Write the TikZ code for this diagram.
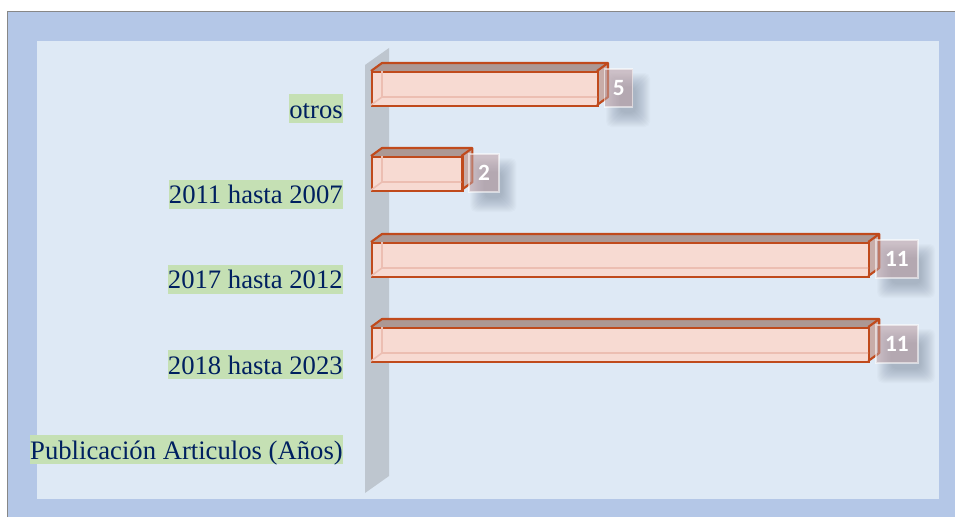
\documentclass[tikz,border=0pt]{standalone}
\usepackage{fontspec}
\setmainfont{Liberation Serif}
\newfontfamily\valfont{Carlito}
\definecolor{outerblue}{RGB}{180,199,231}
\definecolor{innerblue}{RGB}{222,233,245}
\definecolor{framegray}{RGB}{135,135,135}
\definecolor{wallgray}{RGB}{190,198,207}
\definecolor{barfill}{RGB}{247,218,210}
\definecolor{barstroke}{RGB}{192,74,28}
\definecolor{bartop}{RGB}{172,152,148}
\definecolor{barside}{RGB}{200,172,168}
\definecolor{hidden}{RGB}{236,190,178}
\definecolor{valbg}{RGB}{190,158,162}
\definecolor{shadowc}{RGB}{95,110,135}
\definecolor{hlgreen}{RGB}{197,224,180}
\definecolor{navy}{RGB}{0,32,96}
\tikzset{
  catlabel/.style={fill=hlgreen, text=navy, inner sep=0pt, text height=18pt, text depth=3.75pt, font=\fontsize{20}{24}\selectfont, anchor=base east},
  barfront/.style={fill=barfill, draw=barstroke, line width=1.6pt, inner sep=0pt, anchor=north west},
  baredge/.style={draw=barstroke, line width=1.6pt, line join=round},
  hiddenedge/.style={draw=hidden, line width=1.2pt},
  valbox/.style={fill=valbg, fill opacity=0.55, text opacity=1, draw=white, draw opacity=0.55, line width=1pt, text=white, inner sep=0pt, minimum height=28.5pt, font=\valfont\bfseries\fontsize{17.5}{20}\selectfont, anchor=west}
}
\begin{document}
\begin{tikzpicture}[x=0.75pt,y=-0.75pt]
\useasboundingbox (0,0) rectangle (955,517);
\fill[white] (0,0) rectangle (955,517);
\fill[outerblue] (7,11) rectangle (955,517);
\draw[framegray, line width=1.3pt] (7.5,517) -- (7.5,11.5) -- (955,11.5);
\fill[innerblue] (37,41) rectangle (939,499);
% wall
\fill[wallgray] (365,65) -- (389,48) -- (389,476) -- (365,493) -- cycle;
% bars
\foreach \t/\v/\w/\n in {71/5/28/a,156/2/30/b,242/11/42/c,327/11/42/d}{
  \pgfmathsetmacro\r{371+45.2*\v}
  \pgfmathsetmacro\b{\t+34}
  % shadow of value box
  \foreach \e in {-6,...,8}{
    \fill[shadowc, opacity=0.03, rounded corners=4pt] (\r+7+10-\e,\t-2+12-\e) rectangle (\r+7+\w+10+\e,\t+36+12+\e);
  }
  % faces
  \fill[barside] (\r,\t) -- (\r+11,\t-8) -- (\r+11,\b-8) -- (\r,\b) -- cycle;
  \fill[bartop] (371,\t) -- (382,\t-8) -- (\r+11,\t-8) -- (\r,\t) -- cycle;
  \node[barfront, minimum width={(\r-371)*0.75pt}, minimum height=25.5pt] (bar\n) at (371,\t) {};
  \draw[hiddenedge] (371,\b) -- (382,\b-8) -- (\r,\b-8);
  \draw[hiddenedge] (382,\t) -- (382,\b-8);
  \draw[baredge] (371,\t) -- (382,\t-8) -- (\r+11,\t-8) -- (\r+11,\b-8) -- (\r,\b);
  \draw[baredge] (\r,\t) -- (\r+11,\t-8);
  \node[valbox, minimum width={\w*0.75pt}] (val\n) at (\r+7,\t+17) {\v};
}
% category labels
\node[catlabel] (c1) at (343,118) {otros\ };
\node[catlabel] (c2) at (343,203.5) {2011 hasta 2007};
\node[catlabel] (c3) at (343,288.8) {2017 hasta 2012};
\node[catlabel] (c4) at (343,374) {2018 hasta 2023};
\node[catlabel] (c5) at (343,459.2) {Publicación Articulos (Años)};
\end{tikzpicture}
\end{document}
